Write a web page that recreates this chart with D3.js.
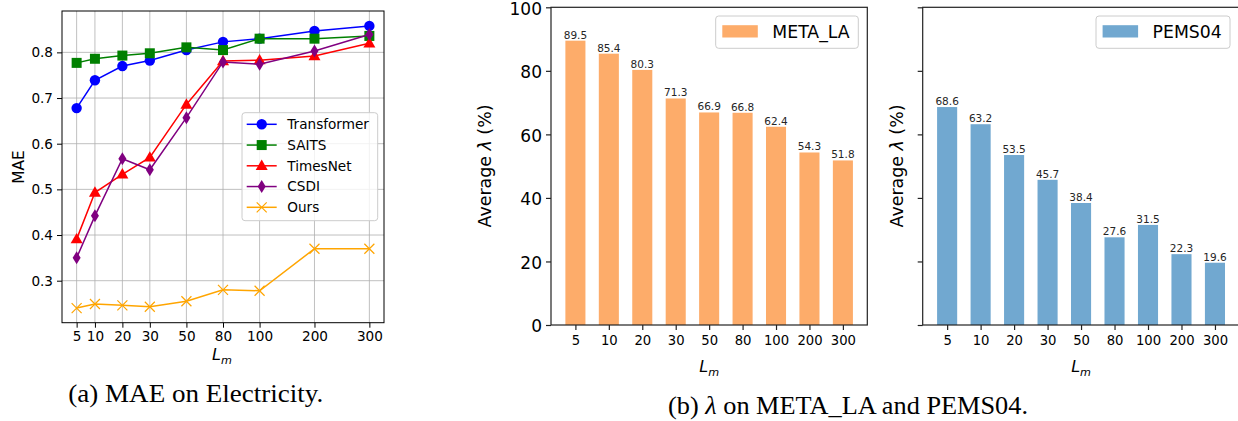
<!DOCTYPE html>
<html><head><meta charset="utf-8">
<script src="https://cdn.jsdelivr.net/npm/d3@7"></script>
<style>
body{margin:0;background:#fff;}
svg{display:block;}
</style></head>
<body>
<svg id="c" width="1238" height="421" font-family="DejaVu Sans"></svg>
<script>
// ---- data ----
const lmCategories = ["5","10","20","30","50","80","100","200","300"];
const maeTicks = [0.3,0.4,0.5,0.6,0.7,0.8];
const transformerMAE = [0.678,0.739,0.770,0.782,0.805,0.823,0.830,0.847,0.858];
const saitsMAE       = [0.777,0.786,0.793,0.798,0.811,0.805,0.830,0.830,0.836];
const timesnetMAE    = [0.391,0.493,0.533,0.570,0.686,0.781,0.783,0.792,0.820];
const csdiMAE        = [0.350,0.442,0.567,0.543,0.657,0.779,0.774,0.803,0.839];
const oursMAE        = [0.240,0.249,0.246,0.243,0.255,0.280,0.278,0.370,0.370];
const metaLA = [89.5,85.4,80.3,71.3,66.9,66.8,62.4,54.3,51.8];
const pems04 = [68.6,63.2,53.5,45.7,38.4,27.6,31.5,22.3,19.6];
const lambdaTicks = [0,20,40,60,80,100];

const svg = d3.select("#c");
function fs(sel, size, family){ sel.style("font-size",size+"px").style("font-family",family||"DejaVu Sans").attr("fill","#000"); return sel; }

// ---------- Panel (a) ----------
const slot = [0,1,2.5,4,6,8,10,13,16]; // non-uniform x placement used by the original axis
const ax = {l:62,r:384,t:11,b:322.7};
const xA = d3.scaleLinear().domain([-0.8,16.8]).range([ax.l,ax.r]);
const yA = d3.scaleLinear().domain([0.208,0.8906]).range([ax.b,ax.t]);
const xPos = i => xA(slot[i]);
const gA = svg.append("g");

// grid
gA.selectAll(".gx").data(lmCategories).enter().append("line")
  .attr("x1",(d,i)=>xPos(i)).attr("x2",(d,i)=>xPos(i)).attr("y1",ax.t).attr("y2",ax.b)
  .attr("stroke","#b0b0b0").attr("stroke-width",0.8);
gA.selectAll(".gy").data(maeTicks).enter().append("line")
  .attr("x1",ax.l).attr("x2",ax.r).attr("y1",d=>yA(d)).attr("y2",d=>yA(d))
  .attr("stroke","#b0b0b0").attr("stroke-width",0.8);

// axes
const xAxisA = d3.axisBottom(xA).tickValues(slot).tickFormat((d,i)=>lmCategories[i]).tickSizeOuter(0).tickSize(5).tickPadding(4);
const gxA = gA.append("g").attr("transform",`translate(0,${ax.b})`).call(xAxisA);
gxA.select(".domain").remove();
fs(gxA.selectAll("text"),13.6);
const yAxisA = d3.axisLeft(yA).tickValues(maeTicks).tickFormat(d3.format(".1f")).tickSizeOuter(0).tickSize(5).tickPadding(4);
const gyA = gA.append("g").attr("transform",`translate(${ax.l},0)`).call(yAxisA);
gyA.select(".domain").remove();
fs(gyA.selectAll("text"),13.6);

const seriesA = [
  {name:"Transformer", vals:transformerMAE, color:"#0000ff", sym:"circle"},
  {name:"SAITS", vals:saitsMAE, color:"#008000", sym:"square"},
  {name:"TimesNet", vals:timesnetMAE, color:"#ff0000", sym:"triangle"},
  {name:"CSDI", vals:csdiMAE, color:"#800080", sym:"diamond"},
  {name:"Ours", vals:oursMAE, color:"#ffa500", sym:"x"}
];
function marker(g, sym, color, x, y){
  if(sym==="circle") g.append("circle").attr("cx",x).attr("cy",y).attr("r",5.2).attr("fill",color);
  else if(sym==="square") g.append("rect").attr("x",x-5).attr("y",y-5).attr("width",10).attr("height",10).attr("fill",color);
  else if(sym==="triangle") g.append("path").attr("d",`M${x},${y-6.2}L${x+6},${y+4.2}L${x-6},${y+4.2}Z`).attr("fill",color);
  else if(sym==="diamond") g.append("path").attr("d",`M${x},${y-6.5}L${x+4},${y}L${x},${y+6.5}L${x-4},${y}Z`).attr("fill",color);
  else if(sym==="x") g.append("path").attr("d",`M${x-5},${y-5}L${x+5},${y+5}M${x-5},${y+5}L${x+5},${y-5}`).attr("stroke",color).attr("stroke-width",1.2).attr("fill","none");
}
const line = d3.line().x((d,i)=>xPos(i)).y(d=>yA(d));
seriesA.forEach(s=>{
  const g = gA.append("g");
  g.append("path").attr("d",line(s.vals)).attr("fill","none").attr("stroke",s.color).attr("stroke-width",1.5);
  s.vals.forEach((v,i)=>marker(g,s.sym,s.color,xPos(i),yA(v)));
});
// frame
gA.append("rect").attr("x",ax.l).attr("y",ax.t).attr("width",ax.r-ax.l).attr("height",ax.b-ax.t)
  .attr("fill","none").attr("stroke","#000").attr("stroke-width",1);

// legend (a)
const lgA = gA.append("g");
lgA.append("rect").attr("x",242).attr("y",112.7).attr("width",135.7).attr("height",108).attr("rx",3)
  .attr("fill","#fff").attr("fill-opacity",0.8).attr("stroke","#cccccc").attr("stroke-width",1);
seriesA.forEach((s,i)=>{
  const y = 124.3 + i*20.75;
  lgA.append("line").attr("x1",246.7).attr("x2",276.7).attr("y1",y).attr("y2",y).attr("stroke",s.color).attr("stroke-width",1.5);
  marker(lgA,s.sym,s.color,261.7,y);
  fs(lgA.append("text").attr("x",287.3).attr("y",y).attr("dy","0.35em"),13.6).text(s.name);
});
// labels (a)
fs(gA.append("text").attr("transform","translate(23.5,167) rotate(-90)").attr("text-anchor","middle"),15.4).text("MAE");
function lmLabel(g,x,y,size){
  const t = fs(g.append("text").attr("x",x).attr("y",y).attr("text-anchor","middle"),size).style("font-style","italic");
  t.append("tspan").text("L");
  t.append("tspan").style("font-size",(size*0.7)+"px").attr("dy",size*0.22).text("m");
}
lmLabel(gA,222,360,16);
fs(svg.append("text").attr("x",195.8).attr("y",401.5).attr("text-anchor","middle")
  .attr("textLength",255).attr("lengthAdjust","spacingAndGlyphs"),24.5,"Liberation Serif")
  .text("(a) MAE on Electricity.");

// ---------- Panel (b) ----------
const yB = d3.scaleLinear().domain([0,100]).range([325,7.3]);
function barPanel(left, right, vals, color, name, showY, legX, legW, ylabX){
  const g = svg.append("g");
  const x = d3.scaleLinear().domain([-0.73,8.73]).range([left,right]);
  const bw = x(0.6)-x(0);
  g.selectAll(".bar").data(vals).enter().append("rect")
    .attr("x",(d,i)=>x(i)-bw/2).attr("width",bw)
    .attr("y",d=>yB(d)).attr("height",d=>yB(0)-yB(d)).attr("fill",color);
  fs(g.selectAll(".lbl").data(vals).enter().append("text")
    .attr("x",(d,i)=>x(i)).attr("y",d=>yB(d)-2).attr("text-anchor","middle"),10.5)
    .attr("fill","#262626").text(d=>d.toFixed(1));
  const xa = d3.axisBottom(x).tickValues(d3.range(vals.length)).tickFormat(i=>lmCategories[i]).tickSizeOuter(0).tickSize(5).tickPadding(6);
  const gx = g.append("g").attr("transform",`translate(0,${yB(0)})`).call(xa);
  gx.select(".domain").remove();
  fs(gx.selectAll("text"),13.2);
  const ya = d3.axisLeft(yB).tickValues(lambdaTicks).tickFormat(showY? d3.format("d") : "").tickSizeOuter(0).tickSize(5).tickPadding(4);
  const gy = g.append("g").attr("transform",`translate(${left},0)`).call(ya);
  gy.select(".domain").remove();
  gy.selectAll("line").attr("stroke","#222").attr("stroke-width",1.2);
  gx.selectAll("line").attr("stroke","#222").attr("stroke-width",1.2);
  fs(gy.selectAll("text"),17).attr("dy","0.4em");
  g.append("rect").attr("x",left).attr("y",yB(100)).attr("width",right-left).attr("height",yB(0)-yB(100))
    .attr("fill","none").attr("stroke","#222").attr("stroke-width",1.2);
  // legend
  g.append("rect").attr("x",legX).attr("y",16).attr("width",legW).attr("height",32.3).attr("rx",3)
    .attr("fill","#fff").attr("fill-opacity",0.8).attr("stroke","#cccccc").attr("stroke-width",1);
  g.append("rect").attr("x",legX+6.6).attr("y",25.2).attr("width",35.5).attr("height",12.3).attr("fill",color);
  fs(g.append("text").attr("x",legX+56.6).attr("y",32).attr("dy","0.35em"),17.3).text(name);
  // y label
  const yl = fs(g.append("text").attr("transform",`translate(${ylabX},166) rotate(-90)`).attr("text-anchor","middle"),17.4);
  yl.append("tspan").text("Average ");
  yl.append("tspan").style("font-style","italic").text("λ");
  yl.append("tspan").text(" (%)");
  lmLabel(g,(left+right)/2,372,16);
}
barPanel(551,867.3,metaLA,"#fdac6a","META_LA",true,715.7,142.6,491);
barPanel(922.7,1239.4,pems04,"#71a8d0","PEMS04",false,1096,134,903);

const cap = fs(svg.append("text").attr("x",848).attr("y",414).attr("text-anchor","middle")
  .attr("textLength",360).attr("lengthAdjust","spacingAndGlyphs"),24.5,"Liberation Serif");
cap.append("tspan").text("(b) ");
cap.append("tspan").style("font-style","italic").text("λ");
cap.append("tspan").text(" on META_LA and PEMS04.");
</script>
</body></html>
